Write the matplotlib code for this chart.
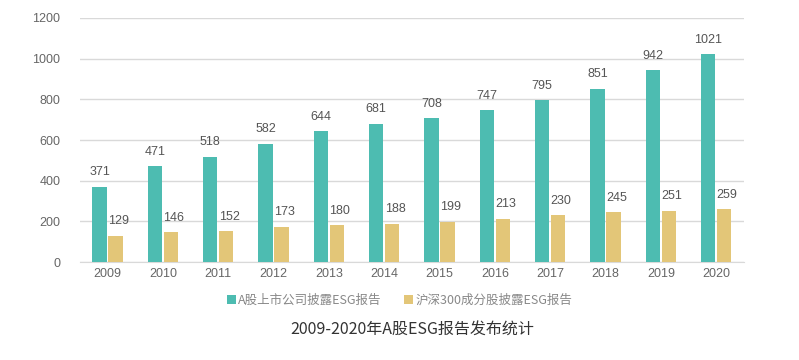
import numpy as np
import matplotlib
matplotlib.use('Agg')
import matplotlib.pyplot as plt

plt.rcParams['font.family'] = ['Liberation Sans', 'Noto Sans CJK SC', 'DejaVu Sans']

years = ['2009', '2010', '2011', '2012', '2013', '2014', '2015', '2016', '2017', '2018', '2019', '2020']
a_share = [371, 471, 518, 582, 644, 681, 708, 747, 795, 851, 942, 1021]
hs300 = [129, 146, 152, 173, 180, 188, 199, 213, 230, 245, 251, 259]
series_names = ['A股上市公司披露ESG报告', '沪深300成分股披露ESG报告']
title = '2009-2020年A股ESG报告发布统计'

teal = '#4DBCB1'
gold = '#E3C678'

fig = plt.figure(figsize=(7.99, 3.6), dpi=100)
ax = fig.add_axes([0.100, 0.272, 0.831, 0.678])

x = np.arange(len(years))
w = 0.26
off = 0.145
b1 = ax.bar(x - off, a_share, w, color=teal, label=series_names[0], zorder=3)
b2 = ax.bar(x + off, hs300, w, color=gold, label=series_names[1], zorder=3)

for xi, v in zip(x, a_share):
    ax.text(xi - off, v + 42, str(v), ha='center', va='bottom', fontsize=9, color='#555555')
for xi, v in zip(x, hs300):
    ax.text(xi + off + 0.05, v + 42, str(v), ha='center', va='bottom', fontsize=9, color='#555555')

ax.set_xlim(-0.5, len(years) - 0.5)
ax.set_ylim(0, 1200)
ax.set_yticks(range(0, 1201, 200))
ax.set_xticks(x)
ax.set_xticklabels(years)
ax.grid(axis='y', color='#d9d9d9', linewidth=1, zorder=0)
for s in ['top', 'right', 'left']:
    ax.spines[s].set_visible(False)
ax.spines['bottom'].set_color('#d9d9d9')
ax.tick_params(axis='both', length=0, labelsize=9, labelcolor='#666666')
ax.tick_params(axis='y', pad=14)
ax.tick_params(axis='x', pad=4)

fig.legend(handles=[b1, b2], loc='center', bbox_to_anchor=(0.5, 0.165), ncol=2,
           frameon=False, handlelength=0.7, handleheight=0.7,
           handletextpad=0.2, columnspacing=1.8, labelcolor='#888888',
           prop={'family': ['Noto Sans CJK SC', 'DejaVu Sans'], 'size': 9})

fig.text(0.516, 0.083, title, ha='center', va='center', fontsize=11.5, color='#333333',
         family=['Noto Sans CJK SC', 'DejaVu Sans'], fontweight='medium')

fig.savefig('out.png', dpi=100)
